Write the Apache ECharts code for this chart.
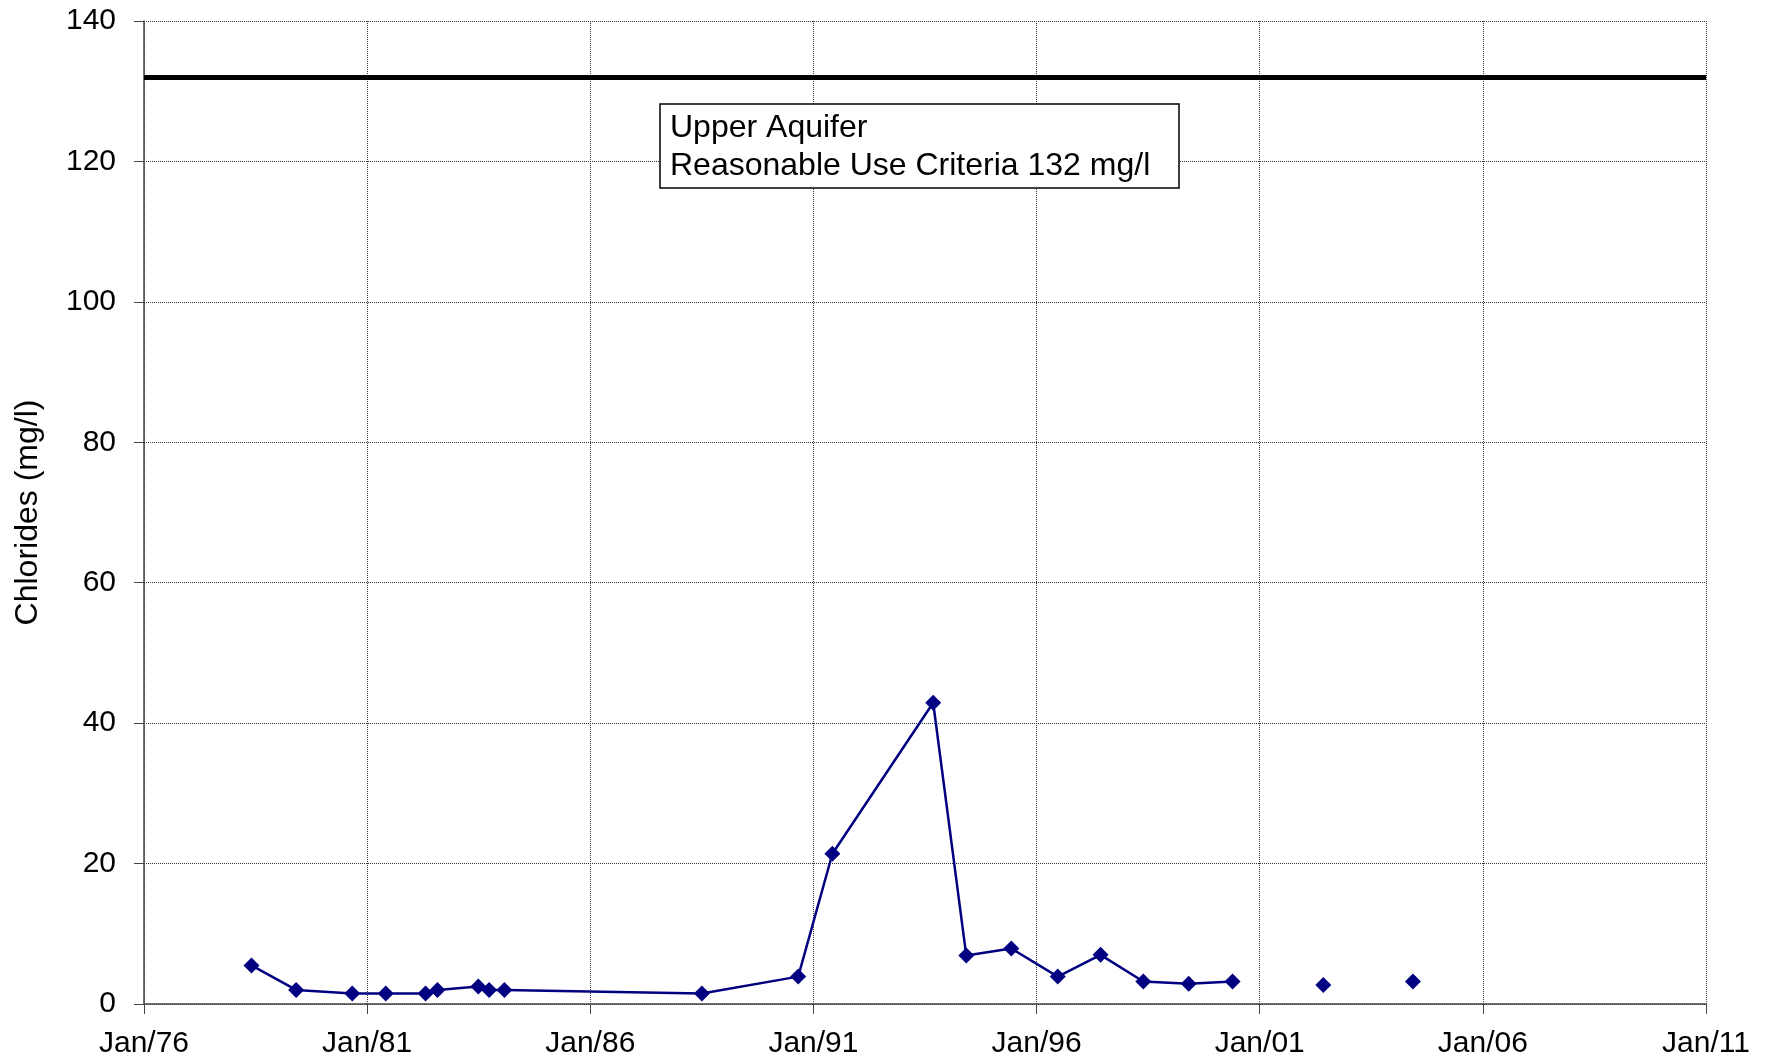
<!DOCTYPE html>
<html>
<head>
<meta charset="utf-8">
<script src="https://cdn.jsdelivr.net/npm/echarts@6/dist/echarts.min.js"></script>
<style>
  html, body { margin: 0; padding: 0; background: #fff; }
  #myEchart1 { width: 1771px; height: 1063px; }
</style>
</head>
<body>
<div id="myEchart1"></div>
<script>
// sample dates and chloride values (mg/l), connected series
var sampleDates = ['1978-05-28', '1979-05-28', '1980-09-01', '1981-06-01', '1982-04-22', '1982-07-28',
  '1983-06-28', '1983-09-25', '1984-01-28', '1988-07-01', '1990-08-28', '1991-06-04', '1993-09-07',
  '1994-06-04', '1995-06-07', '1996-06-22', '1997-06-07', '1998-05-22', '1999-05-28', '2000-05-22'];
var chlorides = [5.5, 2.0, 1.5, 1.5, 1.5, 2.0, 2.5, 2.0, 2.0, 1.5, 3.9, 21.4, 42.9, 6.9, 7.9, 3.9,
  7.0, 3.2, 2.9, 3.2];
// later samples, not joined by the line
var laterDates = ['2002-06-04', '2004-06-07'];
var laterChlorides = [2.7, 3.2];
// reasonable use criteria
var criteria = 132;
var yTicks = [0, 20, 40, 60, 80, 100, 120, 140];

var font = 'Liberation Sans, Arial, sans-serif';

// months since Jan 1976
function toMonths(s) {
  var p = s.split('-');
  return (+p[0] - 1976) * 12 + (+p[1] - 1) + (+p[2] - 1) / 30;
}
function pairs(dates, vals) {
  return dates.map(function (d, i) { return [toMonths(d), vals[i]]; });
}

var myChart = echarts.init(document.getElementById('myEchart1'));
var option = {
  animation: false,
  grid: { left: 144, right: 65, top: 21, bottom: 59 },
  xAxis: {
    type: 'value',
    min: 0,
    max: 420,
    interval: 60,
    axisLine: { show: true, lineStyle: { color: '#444', width: 1.5 } },
    axisTick: { show: true, length: 10, lineStyle: { color: '#444' } },
    axisLabel: {
      margin: 25,
      fontSize: 30,
      fontFamily: font,
      color: '#000',
      formatter: function (v) {
        var y = (76 + v / 12) % 100;
        return 'Jan/' + (y < 10 ? '0' + y : y);
      }
    },
    splitLine: { show: true, lineStyle: { color: '#333', type: 'dotted', width: 1 } }
  },
  yAxis: {
    type: 'value',
    min: yTicks[0],
    max: yTicks[yTicks.length - 1],
    interval: 20,
    name: 'Chlorides (mg/l)',
    nameLocation: 'middle',
    nameGap: 100,
    nameTextStyle: { fontSize: 32, fontFamily: font, color: '#000' },
    axisLine: { show: true, lineStyle: { color: '#444', width: 1.5 } },
    axisTick: { show: true, length: 10, lineStyle: { color: '#444' } },
    axisLabel: { margin: 28, fontSize: 30, fontFamily: font, color: '#000' },
    splitLine: { show: true, lineStyle: { color: '#333', type: 'dotted', width: 1 } }
  },
  graphic: [
    {
      type: 'rect',
      shape: { x: 660, y: 104, width: 519, height: 84 },
      style: { fill: '#fff', stroke: '#000', lineWidth: 1.5 },
      z: 100
    },
    {
      type: 'text',
      left: 670,
      top: 109,
      style: {
        text: 'Upper Aquifer\nReasonable Use Criteria 132 mg/l',
        font: '32px ' + font,
        lineHeight: 38,
        fill: '#000'
      },
      z: 101
    }
  ],
  series: [
    {
      name: 'Chlorides',
      type: 'line',
      data: pairs(sampleDates, chlorides),
      symbol: 'diamond',
      symbolSize: 16,
      itemStyle: { color: '#000080', opacity: 1 },
      lineStyle: { color: '#000080', width: 2.5 },
      markLine: {
        silent: true,
        symbol: ['none', 'none'],
        label: { show: false },
        lineStyle: { color: '#000', width: 5, type: 'solid' },
        data: [{ yAxis: criteria }]
      }
    },
    {
      name: 'Later',
      type: 'scatter',
      data: pairs(laterDates, laterChlorides),
      symbol: 'diamond',
      symbolSize: 16,
      itemStyle: { color: '#000080', opacity: 1 }
    }
  ]
};

option && myChart.setOption(option);
</script>
</body>
</html>
